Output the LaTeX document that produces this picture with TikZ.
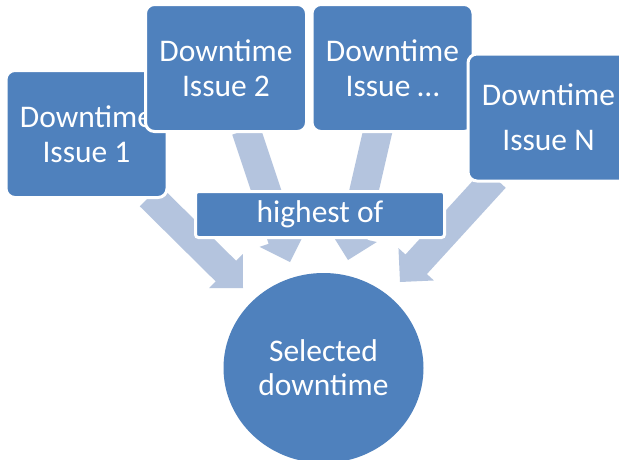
\documentclass[tikz,border=0pt]{standalone}
\usepackage{fontspec}
\setmainfont{Carlito}
\usetikzlibrary{calc,shapes.geometric}
\definecolor{boxblue}{RGB}{79,129,189}
\definecolor{arrowblue}{RGB}{180,196,222}
\newcommand\blockarrow[2]{%
  \fill[arrowblue] let \p1=(#1), \p2=(#2),
    \n1={atan2(\y2-\y1,\x2-\x1)}, \n2={veclen(\x2-\x1,\y2-\y1)} in
    [shift={(\p2)}, rotate=\n1]
    (0,0) -- (-24,24) -- (-24,14.5) -- (-\n2,14.5) -- (-\n2,-14.5)
    -- (-24,-14.5) -- (-24,-24) -- cycle;}
\begin{document}
\begin{tikzpicture}[x=1pt,y=-1pt,
  issuebox/.style={draw=white, line width=3pt, fill=boxblue, text=white,
    rounded corners=9pt, minimum width=161pt, minimum height=127pt,
    align=center, inner sep=0pt, font=\fontsize{31.5}{35}\selectfont},
  highbox/.style={draw=white, line width=3pt, fill=boxblue, text=white,
    rounded corners=3pt, minimum width=249pt, minimum height=46pt,
    inner sep=0pt, font=\fontsize{31.5}{35}\selectfont},
  result/.style={ellipse, fill=boxblue, text=white, minimum width=200pt,
    minimum height=190pt, align=center, inner sep=0pt,
    font=\fontsize{31.5}{34}\selectfont}]
\clip (0,0) rectangle (619,459);
\fill[white] (0,0) rectangle (619,459);
% arrows
\coordinate (a1s) at (150,196);  \coordinate (a1t) at (243,288);
\coordinate (a2s) at (246,130);  \coordinate (a2t) at (290,262);
\coordinate (a3s) at (378,130);  \coordinate (a3t) at (348,260);
\coordinate (a4s) at (495,178);  \coordinate (a4t) at (400,282);
\blockarrow{a1s}{a1t}
\blockarrow{a2s}{a2t}
\blockarrow{a3s}{a3t}
\blockarrow{a4s}{a4t}
% boxes
\node[issuebox] (b1) at (86.5,134) {Downtime\\Issue 1};
\node[issuebox] (b2) at (226,68) {Downtime\\Issue 2};
\node[issuebox] (b3) at (392.5,68) {Downtime\\Issue …};
\node[issuebox, font=\fontsize{31.5}{45}\selectfont] (bn) at (548.5,117.5) {Downtime\\Issue N};
\node[highbox] (high) at (320,214.5) {highest of};
\node[result] (sel) at (323.5,368) {Selected\\downtime};
\end{tikzpicture}
\end{document}
